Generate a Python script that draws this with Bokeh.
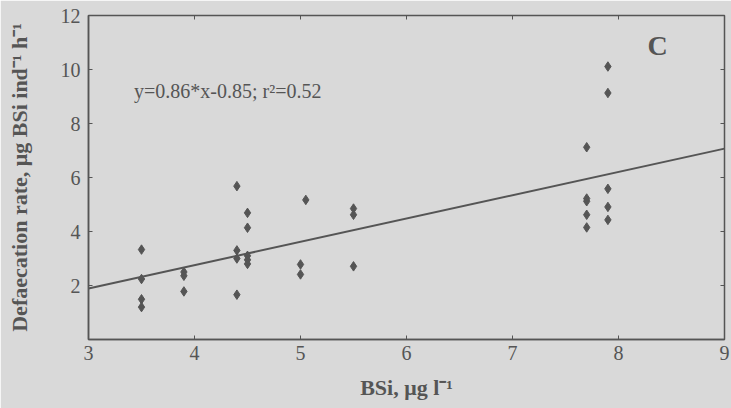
import math
from bokeh.plotting import figure
from bokeh.models import ColumnDataSource, Label, FixedTicker, Range1d
from bokeh.embed import file_html
from bokeh.resources import INLINE

# data
bsi = [3.5, 3.5, 3.5, 3.5,
       3.9, 3.9, 3.9,
       4.4, 4.4, 4.4, 4.4,
       4.5, 4.5, 4.5, 4.5, 4.5,
       5.0, 5.0, 5.05,
       5.5, 5.5, 5.5,
       7.7, 7.7, 7.7, 7.7, 7.7,
       7.9, 7.9, 7.9, 7.9, 7.9]
rate = [3.33, 2.24, 1.49, 1.2,
        2.5, 2.36, 1.78,
        5.68, 3.3, 3.0, 1.66,
        4.69, 4.14, 3.1, 2.95, 2.8,
        2.78, 2.41, 5.17,
        4.85, 4.62, 2.71,
        7.12, 5.22, 5.12, 4.62, 4.15,
        10.11, 9.13, 5.58, 4.91, 4.43]
fit_x = [3.0, 9.0]
fit_y = [1.89, 7.07]
x_ticks = [3, 4, 5, 6, 7, 8, 9]
y_ticks = [2, 4, 6, 8, 10, 12]
x_min, x_max = 3, 9
y_min, y_max = 0, 12

BG = "#d9d9d9"
INK = "#555555"
SERIF = "Liberation Serif"

p = figure(width=731, height=408, output_backend="svg", toolbar_location=None,
           x_range=Range1d(x_min, x_max), y_range=Range1d(y_min, y_max),
           min_border_left=88, min_border_right=7, min_border_top=15, min_border_bottom=69)
p.background_fill_color = BG
p.border_fill_color = BG
p.outline_line_color = INK
p.outline_line_width = 1.5
p.grid.visible = False

p.line(fit_x, fit_y, line_color=INK, line_width=2)
src = ColumnDataSource(dict(x=bsi, y=rate))
p.scatter("x", "y", source=src, marker="diamond", size=9.5, fill_color=INK, line_color=INK)

# inward ticks on the right and top edges of the frame
p.scatter([x_max] * len(y_ticks), y_ticks, marker="dash", size=8, line_color=INK, line_width=1)
p.scatter(x_ticks, [y_max] * len(x_ticks), marker="dash", angle=math.pi / 2, size=8,
          line_color=INK, line_width=1)

for ax in (p.xaxis[0], p.yaxis[0]):
    ax.axis_line_color = INK
    ax.axis_line_width = 1.5
    ax.major_tick_in = 4
    ax.major_tick_out = 0
    ax.major_tick_line_color = INK
    ax.minor_tick_line_color = None
    ax.major_label_text_font = SERIF
    ax.major_label_text_font_size = "20px"
    ax.major_label_text_color = INK
    ax.axis_label_text_font = SERIF
    ax.axis_label_text_font_style = "bold"
    ax.axis_label_text_color = INK

p.xaxis.ticker = FixedTicker(ticks=x_ticks)
p.yaxis.ticker = FixedTicker(ticks=y_ticks)
p.xaxis.axis_label = "BSi, μg l⁻¹"
p.yaxis.axis_label = "Defaecation rate, μg BSi ind⁻¹ h⁻¹"
p.xaxis.axis_label_text_font_size = "22px"
p.yaxis.axis_label_text_font_size = "22px"
p.xaxis.major_label_standoff = 6
p.yaxis.major_label_standoff = 8
p.xaxis.axis_label_standoff = 12
p.yaxis.axis_label_standoff = 26

p.add_layout(Label(x=3.43, y=9.22, text="y=0.86*x-0.85; r²=0.52", text_font=SERIF,
                   text_font_size="20px", text_color=INK, text_baseline="middle"))
p.add_layout(Label(x=8.37, y=10.89, text="C", text_font=SERIF, text_font_style="bold",
                   text_font_size="28px", text_color=INK, text_baseline="middle",
                   text_align="center"))

open("out.html", "w").write(file_html(p, INLINE))
